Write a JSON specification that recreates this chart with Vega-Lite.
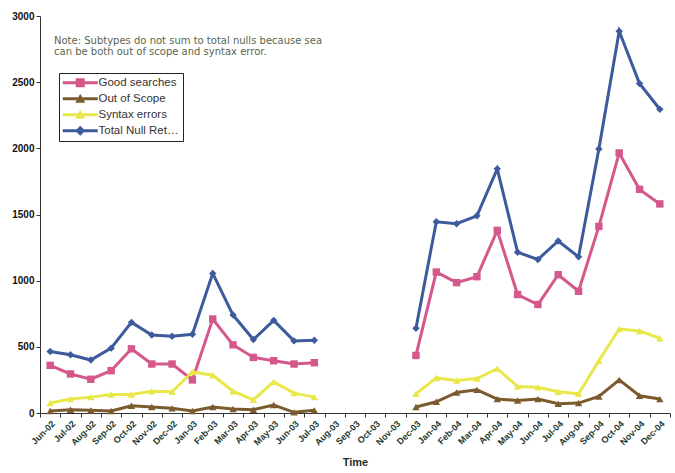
{
  "$schema": "https://vega.github.io/schema/vega-lite/v6.json",
  "width": 630,
  "height": 397,
  "autosize": {"type": "none"},
  "padding": {"left": 40, "top": 16, "right": 5, "bottom": 60},
  "background": "white",
  "config": {"view": {"stroke": null}, "font": "Liberation Sans"},
  "title": {
    "text": ["Note: Subtypes do not sum to total nulls because sea", "can be both out of scope and syntax error."],
    "anchor": "start",
    "frame": "group",
    "orient": "top",
    "offset": -46,
    "dx": 14,
    "font": "DejaVu Sans",
    "fontSize": 10,
    "fontWeight": "normal",
    "color": "#5b6650",
    "lineHeight": 11
  },
  "data": {
    "values": [
      {"month": "Jun-02", "Good searches": 360, "Out of Scope": 15, "Syntax errors": 75, "Total Null Return": 465},
      {"month": "Jul-02", "Good searches": 295, "Out of Scope": 25, "Syntax errors": 105, "Total Null Return": 440},
      {"month": "Aug-02", "Good searches": 255, "Out of Scope": 20, "Syntax errors": 120, "Total Null Return": 400},
      {"month": "Sep-02", "Good searches": 320, "Out of Scope": 15, "Syntax errors": 140, "Total Null Return": 490},
      {"month": "Oct-02", "Good searches": 485, "Out of Scope": 55, "Syntax errors": 140, "Total Null Return": 685},
      {"month": "Nov-02", "Good searches": 370, "Out of Scope": 45, "Syntax errors": 165, "Total Null Return": 590},
      {"month": "Dec-02", "Good searches": 370, "Out of Scope": 35, "Syntax errors": 160, "Total Null Return": 580},
      {"month": "Jan-03", "Good searches": 250, "Out of Scope": 15, "Syntax errors": 310, "Total Null Return": 595},
      {"month": "Feb-03", "Good searches": 710, "Out of Scope": 45, "Syntax errors": 285, "Total Null Return": 1055},
      {"month": "Mar-03", "Good searches": 515, "Out of Scope": 30, "Syntax errors": 165, "Total Null Return": 740},
      {"month": "Apr-03", "Good searches": 420, "Out of Scope": 25, "Syntax errors": 100, "Total Null Return": 555},
      {"month": "May-03", "Good searches": 395, "Out of Scope": 60, "Syntax errors": 235, "Total Null Return": 700},
      {"month": "Jun-03", "Good searches": 370, "Out of Scope": 5, "Syntax errors": 150, "Total Null Return": 545},
      {"month": "Jul-03", "Good searches": 380, "Out of Scope": 20, "Syntax errors": 120, "Total Null Return": 550},
      {"month": "Aug-03", "Good searches": null, "Out of Scope": null, "Syntax errors": null, "Total Null Return": null},
      {"month": "Sep-03", "Good searches": null, "Out of Scope": null, "Syntax errors": null, "Total Null Return": null},
      {"month": "Oct-03", "Good searches": null, "Out of Scope": null, "Syntax errors": null, "Total Null Return": null},
      {"month": "Nov-03", "Good searches": null, "Out of Scope": null, "Syntax errors": null, "Total Null Return": null},
      {"month": "Dec-03", "Good searches": 435, "Out of Scope": 45, "Syntax errors": 145, "Total Null Return": 640},
      {"month": "Jan-04", "Good searches": 1065, "Out of Scope": 85, "Syntax errors": 265, "Total Null Return": 1445},
      {"month": "Feb-04", "Good searches": 985, "Out of Scope": 155, "Syntax errors": 245, "Total Null Return": 1430},
      {"month": "Mar-04", "Good searches": 1030, "Out of Scope": 175, "Syntax errors": 260, "Total Null Return": 1490},
      {"month": "Apr-04", "Good searches": 1380, "Out of Scope": 105, "Syntax errors": 335, "Total Null Return": 1845},
      {"month": "May-04", "Good searches": 895, "Out of Scope": 95, "Syntax errors": 200, "Total Null Return": 1215},
      {"month": "Jun-04", "Good searches": 820, "Out of Scope": 105, "Syntax errors": 195, "Total Null Return": 1160},
      {"month": "Jul-04", "Good searches": 1045, "Out of Scope": 70, "Syntax errors": 160, "Total Null Return": 1300},
      {"month": "Aug-04", "Good searches": 920, "Out of Scope": 75, "Syntax errors": 145, "Total Null Return": 1180},
      {"month": "Sep-04", "Good searches": 1410, "Out of Scope": 125, "Syntax errors": 395, "Total Null Return": 1995},
      {"month": "Oct-04", "Good searches": 1965, "Out of Scope": 250, "Syntax errors": 635, "Total Null Return": 2885},
      {"month": "Nov-04", "Good searches": 1690, "Out of Scope": 130, "Syntax errors": 620, "Total Null Return": 2490},
      {"month": "Dec-04", "Good searches": 1580, "Out of Scope": 105, "Syntax errors": 565, "Total Null Return": 2295}
    ]
  },
  "transform": [
    {"fold": ["Good searches", "Out of Scope", "Syntax errors", "Total Null Return"], "as": ["series", "count"]}
  ],
  "encoding": {
    "x": {
      "field": "month",
      "type": "ordinal",
      "sort": null,
      "bandPosition": 0.5,
      "scale": {
        "type": "band",
        "paddingInner": 0,
        "paddingOuter": 0,
        "domain": ["Jun-02", "Jul-02", "Aug-02", "Sep-02", "Oct-02", "Nov-02", "Dec-02", "Jan-03", "Feb-03", "Mar-03", "Apr-03", "May-03", "Jun-03", "Jul-03", "Aug-03", "Sep-03", "Oct-03", "Nov-03", "Dec-03", "Jan-04", "Feb-04", "Mar-04", "Apr-04", "May-04", "Jun-04", "Jul-04", "Aug-04", "Sep-04", "Oct-04", "Nov-04", "Dec-04"]
      },
      "axis": {
        "title": "Time",
        "titleFontSize": 11,
        "titleFontWeight": "bold",
        "titleColor": "#1e2e28",
        "titlePadding": 10,
        "labelAngle": -45,
        "labelFontSize": 9,
        "labelFontWeight": "bold",
        "labelColor": "#1e3a30",
        "tickBand": "extent",
        "tickSize": 4,
        "tickColor": "#333333",
        "domainColor": "#333333",
        "grid": false,
        "labelPadding": 2
      }
    },
    "y": {
      "field": "count",
      "type": "quantitative",
      "scale": {"domain": [0, 3000], "nice": false},
      "axis": {
        "title": null,
        "values": [0, 500, 1000, 1500, 2000, 2500, 3000],
        "format": "d",
        "labelFontSize": 10,
        "labelFontWeight": "bold",
        "labelColor": "#111111",
        "tickSize": 4,
        "tickColor": "#333333",
        "domainColor": "#333333",
        "grid": false
      }
    },
    "color": {
      "field": "series",
      "type": "nominal",
      "scale": {
        "domain": ["Good searches", "Out of Scope", "Syntax errors", "Total Null Return"],
        "range": ["#d4588c", "#7b5b2e", "#e8e84c", "#3d5b9c"]
      },
      "legend": null
    }
  },
  "layer": [
    {"mark": {"type": "line", "strokeWidth": 3}},
    {
      "mark": {"type": "point", "filled": true, "size": 55, "opacity": 1},
      "encoding": {
        "shape": {
          "field": "series",
          "type": "nominal",
          "scale": {
            "domain": ["Good searches", "Out of Scope", "Syntax errors", "Total Null Return"],
            "range": ["square", "triangle-up", "triangle-up", "diamond"]
          },
          "legend": null
        }
      }
    },
    {
      "transform": [{"filter": "false"}],
      "mark": {"type": "point", "filled": true, "size": 100, "opacity": 1},
      "encoding": {
        "shape": {
          "field": "series",
          "type": "nominal",
          "scale": {
            "domain": ["Good searches", "Out of Scope", "Syntax errors", "Total Null Return"],
            "range": [
              "M-3.5,-0.3H3.5V0.3H-3.5Z M-0.9,-0.9H0.9V0.9H-0.9Z",
              "M-3.5,-0.3H3.5V0.3H-3.5Z M0,-1L1,0.8H-1Z",
              "M-3.5,-0.3H3.5V0.3H-3.5Z M0,-1L1,0.8H-1Z",
              "M-3.5,-0.3H3.5V0.3H-3.5Z M0,-1L1,0L0,1L-1,0Z"
            ]
          },
          "legend": {
            "title": null,
            "orient": "none",
            "legendX": 19,
            "legendY": 57,
            "strokeColor": "#222222",
            "fillColor": "white",
            "padding": 4,
            "labelFontSize": 11.5,
            "labelColor": "#333333",
            "labelLimit": 84,
            "rowPadding": 3,
            "symbolSize": 100,
            "symbolOffset": 11.5,
            "labelOffset": 12.5,
            "symbolStrokeWidth": 0,
            "symbolOpacity": 1
          }
        },
        "fill": {
          "field": "series",
          "type": "nominal",
          "scale": {
            "domain": ["Good searches", "Out of Scope", "Syntax errors", "Total Null Return"],
            "range": ["#d4588c", "#7b5b2e", "#e8e84c", "#3d5b9c"]
          },
          "legend": {
            "title": null,
            "orient": "none",
            "legendX": 19,
            "legendY": 57,
            "strokeColor": "#222222",
            "fillColor": "white",
            "padding": 4,
            "labelFontSize": 11.5,
            "labelColor": "#333333",
            "labelLimit": 84,
            "rowPadding": 3,
            "symbolSize": 100,
            "symbolOffset": 11.5,
            "labelOffset": 12.5,
            "symbolStrokeWidth": 0,
            "symbolOpacity": 1
          }
        }
      }
    }
  ],
  "resolve": {
    "scale": {"shape": "independent", "fill": "independent"},
    "legend": {"shape": "independent", "fill": "independent"}
  }
}
